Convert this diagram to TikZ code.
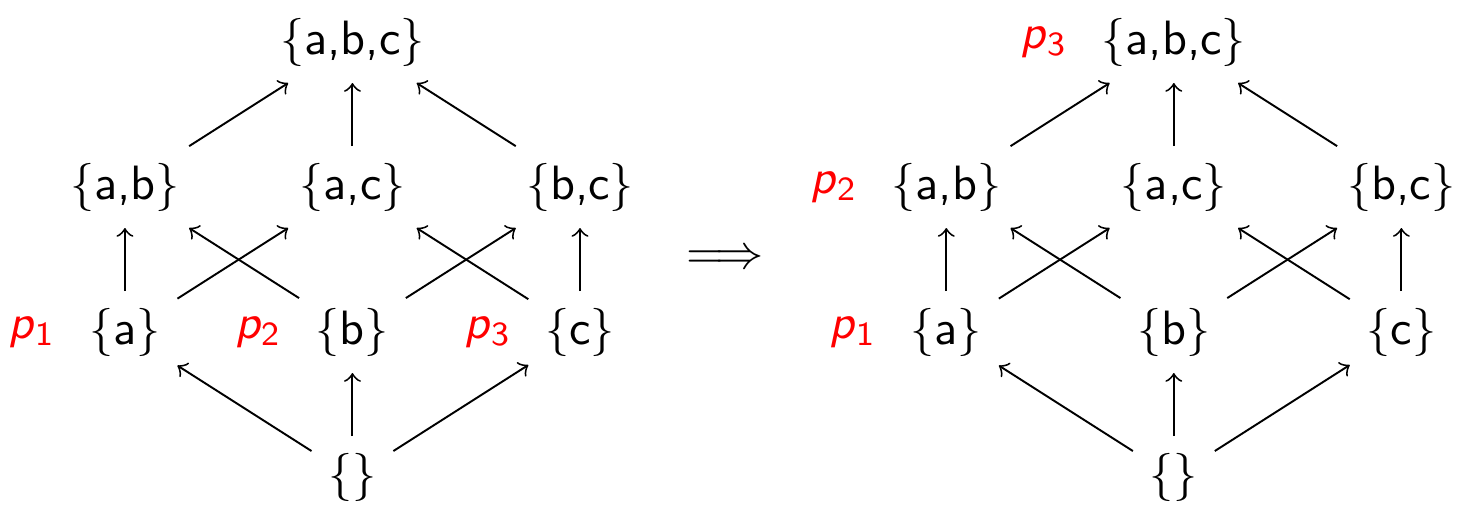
\documentclass[tikz,border=0pt]{standalone}
\usetikzlibrary{positioning}
\tikzset{set/.style={inner sep=3.3pt},
  pre/.style={text=red,inner sep=3.3pt},
  edge/.style={->,draw=black}}
\newcommand{\pp}[1]{\textit{p}\textsubscript{#1}}

\begin{document}
\begin{tikzpicture}[x=1.66cm,y=1.058cm,font=\sffamily,node distance=0mm]
\useasboundingbox (-0.549,-0.217) rectangle (5.881,3.29);
% two lattices of subsets
\foreach \s/\q in {0/l,3.61/r}{
  \node[set] (\q abc) at (\s+1,3){\{a,b,c\}};
  \node[set] (\q ab) at (\s,2){\{a,b\}};
  \node[set] (\q ac) at (\s+1,2){\{a,c\}};
  \node[set] (\q bc) at (\s+2,2){\{b,c\}};
  \node[set] (\q a) at (\s,1){\{a\}};
  \node[set] (\q b) at (\s+1,1){\{b\}};
  \node[set] (\q c) at (\s+2,1){\{c\}};
  \node[set] (\q e) at (\s+1,0){\{\}};
  \foreach \from/\to in {e/a,e/b,e/c,a/ab,a/ac,b/ab,b/bc,c/ac,c/bc,ab/abc,ac/abc,bc/abc}
    \draw[edge] (\q\from) -- (\q\to);
}
% positions of the p's
\node[pre,left=of la] (lp1) {\pp1};
\node[pre,left=of lb] (lp2) {\pp2};
\node[pre,left=of lc] (lp3) {\pp3};
\node[pre,left=of ra] (rp1) {\pp1};
\node[pre,left=of rab] (rp2) {\pp2};
\node[pre,left=of rabc] (rp3) {\pp3};
\node (impl) at (2.637,1.5) {$\Longrightarrow$};
\end{tikzpicture}
\end{document}
